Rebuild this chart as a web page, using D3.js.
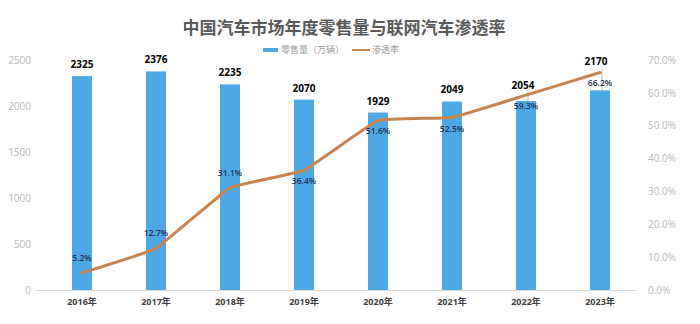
<!DOCTYPE html>
<html><head><meta charset="utf-8">
<script src="https://cdn.jsdelivr.net/npm/d3@7"></script>
<style>
body{margin:0;background:#fff;}
svg{display:block;font-family:"Open Sans","Noto Sans CJK SC",sans-serif;}
</style></head>
<body><svg id="c" width="700" height="324"></svg>
<script>
const years = ["2016年","2017年","2018年","2019年","2020年","2021年","2022年","2023年"];
const sales = [2325,2376,2235,2070,1929,2049,2054,2170];
const rate = [5.2,12.7,31.1,36.4,51.6,52.5,59.3,66.2];
const leftTicks = [0,500,1000,1500,2000,2500];
const rightTicks = [0,10,20,30,40,50,60,70];
const rateLabelPos = ["above","above","above","below","below","below","below","below"];

const svg = d3.select("#c");
const x = d3.scaleBand().domain(years).range([45,637]).paddingInner(0.73).paddingOuter(0.365);
const xc = d=> x(d)+x.bandwidth()/2;
const yL = d3.scaleLinear().domain([0,2500]).range([290,60]);
const yR = d3.scaleLinear().domain([0,70]).range([290,60]);

svg.append("text").attr("x",344).attr("y",34).attr("text-anchor","middle")
  .attr("font-family","'Noto Sans CJK SC',sans-serif").attr("font-weight","bold")
  .attr("font-size",17).attr("fill","#595959").text("中国汽车市场年度零售量与联网汽车渗透率");

// legend
const lg = svg.append("g").attr("font-family","'Noto Sans CJK SC',sans-serif").attr("font-size",9).attr("fill","#999");
lg.append("rect").attr("x",263).attr("y",48).attr("width",15).attr("height",4).attr("fill","#4FA8E6");
lg.append("text").attr("x",281).attr("y",53).text("零售量（万辆）");
lg.append("line").attr("x1",352).attr("x2",370).attr("y1",50).attr("y2",50).attr("stroke","#C8834F").attr("stroke-width",2);
lg.append("text").attr("x",372).attr("y",53).text("渗透率");

// axes
const gl = svg.append("g").attr("transform","translate(33,0)")
  .call(d3.axisLeft(yL).tickValues(leftTicks).tickSize(0).tickPadding(2).tickFormat(d3.format("d")));
gl.select(".domain").remove();
gl.selectAll("text").attr("fill","#b8b8b8").attr("font-size",10).attr("font-family","'Open Sans',sans-serif");

const gr = svg.append("g").attr("transform","translate(646,0)")
  .call(d3.axisRight(yR).tickValues(rightTicks).tickSize(0).tickPadding(2).tickFormat(d=>d.toFixed(1)+"%"));
gr.select(".domain").remove();
gr.selectAll("text").attr("fill","#b8b8b8").attr("font-size",10).attr("font-family","'Open Sans',sans-serif");

// bars
svg.append("g").selectAll("rect").data(years).join("rect")
  .attr("x",d=>x(d)).attr("width",x.bandwidth())
  .attr("y",(d,i)=>yL(sales[i])).attr("height",(d,i)=>yL(0)-yL(sales[i]))
  .attr("fill","#4FA8E6");

// baseline
svg.append("line").attr("x1",35).attr("x2",637).attr("y1",yL(0)+0.5).attr("y2",yL(0)+0.5).attr("stroke","#d9d9d9");

const gx = svg.append("g").attr("transform",`translate(0,${yL(0)})`)
  .call(d3.axisBottom(x).tickSize(0).tickPadding(9));
gx.select(".domain").remove();
gx.selectAll("text").attr("fill","#404040").attr("font-size",9).attr("font-weight","bold")
  .attr("font-family","'Open Sans','Noto Sans CJK SC',sans-serif");

const liftSales = [0,0,0,0,0,0,4,17];
// leader lines for labels lifted above
const leaders = [6,7];
svg.append("g").selectAll("line").data(leaders).join("line")
  .attr("x1",i=>xc(years[i])+2).attr("x2",i=>xc(years[i])+2)
  .attr("y1",i=> yL(sales[i])-5-liftSales[i]).attr("y2",i=>yL(sales[i]))
  .attr("stroke","#bfbfbf").attr("stroke-width",1);

// line
const line = d3.line().x((d,i)=>xc(years[i])).y(d=>yR(d)).curve(d3.curveCardinal.tension(0.75));
svg.append("path").datum(rate).attr("d",line).attr("fill","none")
  .attr("stroke","#C8834F").attr("stroke-width",3).attr("stroke-linecap","round");

// sales labels
svg.append("g").selectAll("text").data(sales).join("text")
  .attr("x",(d,i)=>xc(years[i])+(i===6?-3:(i===7?-4:0))).attr("y",(d,i)=>yL(d)-8-liftSales[i])
  .attr("text-anchor","middle").attr("font-size",10).attr("font-weight","bold").attr("fill","#000")
  .attr("font-family","'Open Sans',sans-serif").text(d=>d);

// rate labels
svg.append("g").selectAll("text").data(rate).join("text")
  .attr("x",(d,i)=>xc(years[i])).attr("y",(d,i)=>rateLabelPos[i]==="above"? yR(d)-12 : yR(d)+14)
  .attr("text-anchor","middle").attr("font-size",8.5).attr("font-weight","600").attr("fill","#1f3050")
  .attr("font-family","'Open Sans',sans-serif").text(d=>d.toFixed(1)+"%");
</script></body></html>
